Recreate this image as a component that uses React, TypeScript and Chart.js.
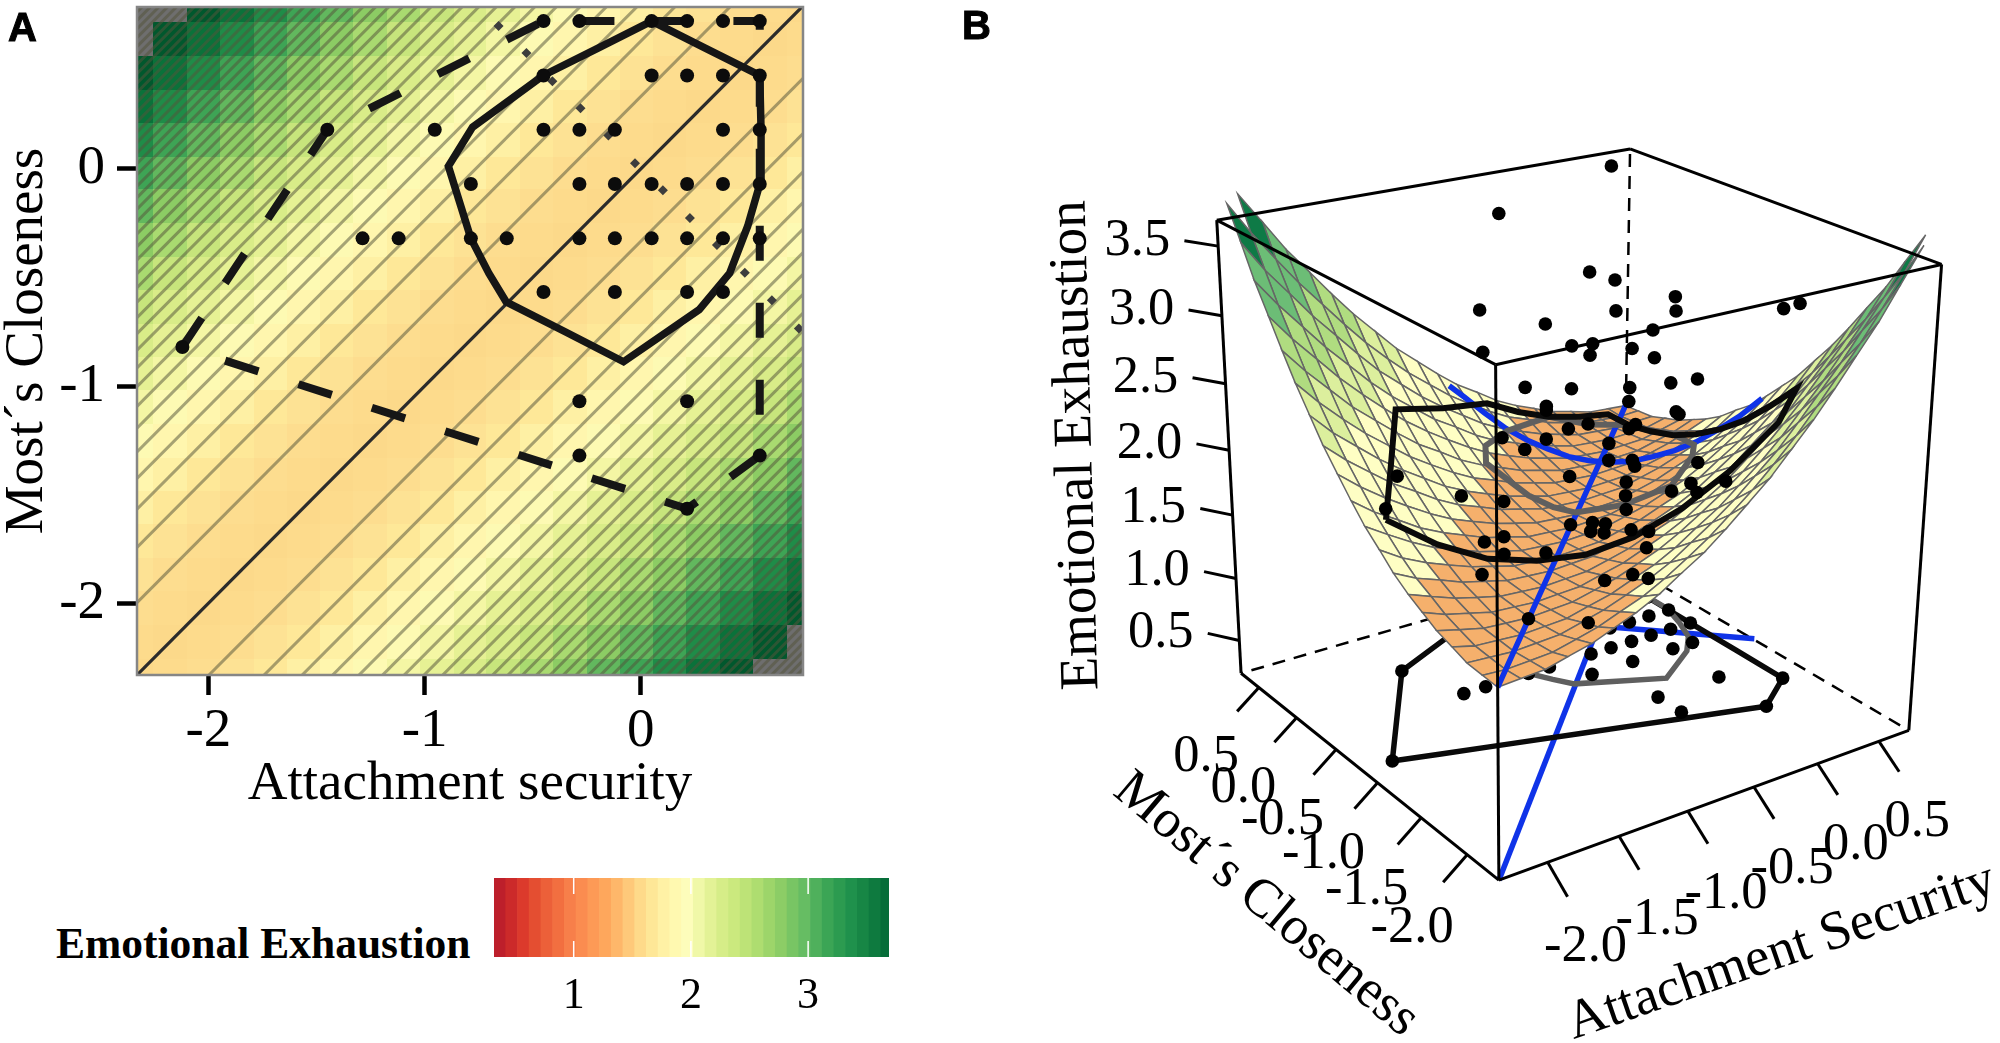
import { useEffect, useRef } from 'react'
import { Chart, registerables } from 'chart.js'

Chart.register(...registerables)

const SERIF = '"Liberation Serif", serif'

// scatter points of panel A, also the floor dots of panel B
const pointX = [
  -0.45, -0.284, 0.05, 0.214, 0.38, 0.55,
  -0.45, 0.05, 0.214, 0.38, 0.55,
  -1.45, -0.953, -0.45, -0.284, -0.12, 0.38, 0.55,
  -0.786, -0.284, -0.12, 0.05, 0.214, 0.38, 0.55,
  -1.287, -1.12, -0.786, -0.62, -0.284, -0.12, 0.05, 0.214, 0.38, 0.55,
  -0.45, -0.12, 0.214, 0.38,
  -2.12,
  -0.284, 0.214,
  -0.284, 0.55,
  0.214,
]
const pointY = [
  0.68, 0.68, 0.68, 0.68, 0.68, 0.68,
  0.43, 0.43, 0.43, 0.43, 0.43,
  0.18, 0.18, 0.18, 0.18, 0.18, 0.18, 0.18,
  -0.07, -0.07, -0.07, -0.07, -0.07, -0.07, -0.07,
  -0.32, -0.32, -0.32, -0.32, -0.32, -0.32, -0.32, -0.32, -0.32, -0.32,
  -0.567, -0.567, -0.567, -0.567,
  -0.82,
  -1.07, -1.07,
  -1.32, -1.32,
  -1.565,
]

// the same people raised to their outcome in panel B
const dotX = [0.55, -0.51, -0.15, 0.05, -1.14, -0.12, 0.35, 0.55, 0.02, 0.214, 0.55, 0.55, -1.12, -0.284, -0.12, 0.214, 0.38, 0.38, 0.33, 0.55, -0.81, -0.284, 0.55, 0.36, -0.31, 0.03, 0.38, 0.214, 0.38, 0.214, -0.82, -0.65, -0.48, 0.38, 0.05, 0.55, 0.214, 0.214, 0.05, 0.02, 0.38, 0.35, 0.52, -0.12, -1.45, -1.287, -0.81, 0.55, 0.53, 0.38, -2.12, 0.17, -0.284, -0.284, 0, -0.12, -0.19, 0.214, 0.55, -0.81, -1.12, -0.81, -0.65, 0.16, -1.14, -0.18, 0.05, 0.18, -0.786, -0.31]
const dotY = [0.68, 0.43, -0.07, -0.07, -0.32, -0.32, -0.32, -0.07, 0.68, -1.565, -1.32, 0.18, -0.32, -0.07, -0.07, 0.43, 0.18, -0.07, -0.32, -0.32, -0.32, -0.07, 0.43, 0.18, 0.18, 0.68, -0.32, -0.567, 0.68, 0.68, -0.07, -0.32, 0.18, 0.43, -0.32, 0.43, -1.07, -0.07, -0.32, -0.07, -0.567, 0.18, -0.32, 0.18, 0.18, -0.32, -0.07, -0.07, 0.43, -0.567, -0.82, -0.07, -0.07, -0.32, -0.07, -0.07, -0.32, -0.07, 0.18, -0.07, -0.32, -0.07, -0.32, -0.32, -0.32, -0.32, -0.32, -0.32, -0.32, -0.32]
const dotZ = [3.6, 3.49, 3.13, 3.03, 3.13, 2.91, 2.92, 2.69, 2.46, 3.25, 3.14, 2.46, 2.82, 2.6, 2.58, 2.25, 2.35, 2.36, 2.26, 2.24, 2.49, 2.27, 1.91, 1.93, 2.05, 1.76, 2.02, 2.13, 1.56, 1.56, 2.02, 2.06, 1.75, 1.49, 2.0, 1.57, 1.8, 1.58, 1.67, 1.63, 1.71, 1.27, 1.41, 1.44, 1.79, 1.79, 1.52, 1.24, 1.01, 1.47, 2.12, 1.19, 1.19, 1.31, 1.12, 1.09, 1.2, 1.01, 0.8, 1.24, 1.39, 1.1, 1.17, 0.98, 1.14, 0.81, 0.79, 0.72, 0.68, 0.5]

// hulls
const innerX = [0.05, 0.3, 0.55, 0.556, 0.556, 0.494, 0.411, 0.27, -0.08, -0.35, -0.623, -0.703, -0.786, -0.89, -0.778, -0.451, -0.2, 0.05]
const innerY = [0.68, 0.555, 0.43, 0.18, -0.05, -0.264, -0.48, -0.648, -0.888, -0.75, -0.612, -0.48, -0.32, 0.012, 0.192, 0.43, 0.555, 0.68]
const innerZ = [1.7, 1.62, 1.6, 1.64, 1.7, 1.75, 1.81, 1.82, 1.77, 1.64, 1.6, 1.61, 1.66, 1.81, 1.85, 1.8, 1.75, 1.7]
const outerX = [-2.12, -1.785, -1.45, -0.95, -0.45, -0.2, 0.05, 0.3, 0.55, 0.55, 0.55, 0.55, 0.55, 0.55, 0.55, 0.55, 0.55, 0.214, -0.078, -0.37, -0.662, -0.954, -1.246, -1.538, -1.83, -2.12]
const outerY = [-0.82, -0.32, 0.18, 0.43, 0.68, 0.68, 0.68, 0.68, 0.68, 0.43, 0.18, -0.07, -0.32, -0.57, -0.82, -1.07, -1.32, -1.565, -1.472, -1.379, -1.286, -1.193, -1.1, -1.007, -0.914, -0.82]
const outerZ = [2.04, 2.16, 2.3, 2.1, 1.93, 1.8, 1.7, 1.64, 1.6, 1.6, 1.64, 1.7, 1.8, 1.93, 2.09, 2.29, 2.51, 2.43, 2.11, 1.87, 1.7, 1.61, 1.61, 1.67, 1.82, 2.04]
// corners of the outer hull, panel A draws it dashed between these only
const hullCornerX = [-2.12, -1.45, -0.45, 0.55, 0.55, 0.214, -2.12]
const hullCornerY = [-0.82, 0.18, 0.68, 0.68, -1.32, -1.565, -0.82]

// line of incongruence
const loicX = [-0.658, -0.529, -0.409, -0.279, -0.15, -0.027, 0.102, 0.227, 0.352, 0.481, 0.606, 0.731]
const loicY = [0.658, 0.533, 0.403, 0.279, 0.154, 0.026, -0.098, -0.226, -0.351, -0.478, -0.605, -0.735]
const ridgeX = [-0.72, -0.65, -0.55, -0.45, -0.35, -0.25, -0.15, -0.05, 0.05, 0.15, 0.25, 0.35, 0.45, 0.55, 0.65, 0.75]
const ridgeZ = [2.12, 2.04, 1.92, 1.81, 1.73, 1.67, 1.62, 1.6, 1.6, 1.62, 1.67, 1.73, 1.81, 1.92, 2.04, 2.19]

// contour lines, distance from the y = x line
const contourOffsets = [0.333, 0.588, 0.764, 0.905, 1.027, 1.136, 1.236, 1.328, 1.414, 1.495, 1.572, 1.645, 1.716, 1.783, 1.848, 1.911, 1.972, 2.031, 2.088, 2.144, 2.198, 2.251, 2.303, 2.354, 2.403, 2.452, 2.499, 2.546, 2.592, 2.637, 2.682, 2.725, 2.768, 2.811, 2.852, 2.893, 2.934, 2.974, 3.013, 3.052]

// surface: grid nodes, and height per |column - row|
const gridValues = [-2.33, -2.18, -2.02, -1.87, -1.71, -1.56, -1.41, -1.25, -1.1, -0.94, -0.79, -0.64, -0.48, -0.33, -0.17, -0.02, 0.13, 0.29, 0.44, 0.6, 0.75]
const bandZ = [1.6, 1.61, 1.62, 1.66, 1.7, 1.76, 1.82, 1.9, 2.0, 2.1, 2.22, 2.35, 2.49, 2.65, 2.82, 3.0, 3.19, 3.39, 3.61, 3.84, 4.08]
// tile colour in panel A, per |column - row|
const tileColors = ['#fcd98a', '#fddb8c', '#fddd8f', '#fde294', '#fee898', '#fef0a4', '#fff6ae', '#fdfab3', '#f4f6a4', '#e6f194', '#d9ec88', '#c7e57c', '#a9da70', '#8ccc64', '#62b85e', '#3ea455', '#1f8c48', '#0a723a', '#00582d']
const missingColor = '#6e6e6e'

// colour scale, 0.1 wide bins from 0.32
const binCenters = [0.37, 0.47, 0.57, 0.67, 0.77, 0.87, 0.97, 1.07, 1.17, 1.27, 1.37, 1.47, 1.57, 1.67, 1.77, 1.87, 1.97, 2.07, 2.17, 2.27, 2.37, 2.47, 2.57, 2.67, 2.77, 2.87, 2.97, 3.07, 3.17, 3.27, 3.37, 3.47, 3.57, 3.67]
const binColors = ['#bd1f2b', '#cc2a2a', '#dc3a2c', '#e44e31', '#ec6039', '#f26f40', '#f77f4a', '#fb8c50', '#fd9a56', '#fea75c', '#feb76a', '#fec97a', '#feda8a', '#fee797', '#fff1a5', '#fff9b0', '#fdfdbb', '#f0f8a8', '#e3f296', '#d6ed88', '#cbe97e', '#bde377', '#aedd70', '#9dd56a', '#8ccd66', '#78c564', '#66bd63', '#4fb05c', '#3ba555', '#2c9b50', '#1f914c', '#178645', '#0e7a3f', '#066d39']
const legendTicks = [1, 2, 3]

const meshBreaks = [1.78, 2.37, 2.72, 3.1, 3.5]
const meshColors = ['#f5b06c', '#fefec4', '#dcef9d', '#b0dc80', '#6cbd76', '#0e7a46']

const axisTicksA = [-2, -1, 0]
const xTicksB = ['-2.0', '-1.5', '-1.0', '-0.5', '0.0', '0.5']
const yTicksB = ['-2.0', '-1.5', '-1.0', '-0.5', '0.0', '0.5']
const zTicksB = ['0.5', '1.0', '1.5', '2.0', '2.5', '3.0', '3.5']

// panel A tiles
const heatPlugin = {
  id: 'heat',
  beforeDatasetsDraw(chart: any) {
    const { ctx, scales } = chart
    const n = gridValues.length
    const edge = (i: number) => (i <= 0 ? gridValues[0] : i >= n ? gridValues[n - 1] : (gridValues[i - 1] + gridValues[i]) / 2)
    ctx.save()
    for (let i = 0; i < n; i++) {
      for (let j = 0; j < n; j++) {
        const band = Math.abs(i - j)
        const x0 = Math.round(scales.x.getPixelForValue(edge(i)))
        const x1 = Math.round(scales.x.getPixelForValue(edge(i + 1)))
        const y0 = Math.round(scales.y.getPixelForValue(edge(j + 1)))
        const y1 = Math.round(scales.y.getPixelForValue(edge(j)))
        ctx.fillStyle = tileColors[band] ?? missingColor
        ctx.fillRect(x0, y0, x1 - x0, y1 - y0)
      }
    }
    ctx.restore()
  },
  afterDatasetsDraw(chart: any) {
    const { ctx, chartArea: a } = chart
    ctx.save()
    ctx.strokeStyle = '#868686'
    ctx.lineWidth = 2.5
    ctx.strokeRect(a.left, a.top, a.right - a.left, a.bottom - a.top)
    ctx.restore()
  },
}

const line = (xs: number[], ys: number[], color: string, width: number, extra: object = {}) => ({
  data: xs.map((x, i) => ({ x, y: ys[i] })),
  showLine: true,
  borderColor: color,
  borderWidth: width,
  pointRadius: 0,
  ...extra,
})

const panelAConfig: any = {
  type: 'scatter',
  plugins: [heatPlugin],
  data: {
    datasets: [
      { data: pointX.map((x, i) => ({ x, y: pointY[i] })), pointRadius: 7, pointBorderWidth: 0, pointBackgroundColor: '#0c0c0c', order: 1 },
      { data: loicX.map((x, i) => ({ x, y: loicY[i] })), pointStyle: 'rectRot', pointRadius: 5, pointBorderWidth: 0, pointBackgroundColor: '#3d3d3d', order: 2 },
      line(hullCornerX, hullCornerY, '#161616', 8, { borderDash: [35, 42], order: 3 }),
      line(innerX, innerY, '#161616', 7.5, { order: 3 }),
      line([-2.33, 0.75], [-2.33, 0.75], '#2b2b2b', 3.2, { order: 4 }),
      ...contourOffsets.flatMap((c) => [
        line([-4, 2], [-4 + c, 2 + c], 'rgba(85,85,60,0.52)', 3, { order: 5 }),
        line([-4, 2], [-4 - c, 2 - c], 'rgba(85,85,60,0.52)', 3, { order: 5 }),
      ]),
    ],
  },
  options: {
    animation: false,
    responsive: false,
    devicePixelRatio: 1,
    layout: { padding: { top: 5, right: 3.5 } },
    plugins: { legend: { display: false }, tooltip: { enabled: false } },
    scales: {
      x: {
        type: 'linear', min: -2.33, max: 0.75,
        afterBuildTicks: (s: any) => { s.ticks = axisTicksA.map((value) => ({ value })) },
        afterFit: (s: any) => { s.height = 155; s.paddingLeft = 0; s.paddingRight = 0 },
        grid: { drawOnChartArea: false, tickLength: 20, tickWidth: 4.5, tickColor: '#000' },
        border: { display: false },
        ticks: { color: '#000', padding: 4, maxRotation: 0, font: { family: SERIF, size: 55 }, callback: (v: any) => String(v) },
        title: { display: true, text: 'Attachment security', color: '#000', font: { family: SERIF, size: 55, lineHeight: 1 }, padding: { bottom: 18 } },
      },
      y: {
        type: 'linear', min: -2.33, max: 0.745,
        afterBuildTicks: (s: any) => { s.ticks = axisTicksA.map((value) => ({ value })) },
        afterFit: (s: any) => { s.width = 137; s.paddingTop = 0; s.paddingBottom = 0 },
        grid: { drawOnChartArea: false, tickLength: 20, tickWidth: 4.5, tickColor: '#000' },
        border: { display: false },
        ticks: { color: '#000', padding: 12, font: { family: SERIF, size: 55 }, callback: (v: any) => String(v) },
        title: { display: true, text: 'Most´s Closeness', color: '#000', font: { family: SERIF, size: 55, lineHeight: 1 }, padding: { top: 0 } },
      },
    },
  },
}

// white notches on the colour bar
const notchPlugin = {
  id: 'notch',
  afterDatasetsDraw(chart: any) {
    const { ctx, chartArea: a, scales } = chart
    ctx.save()
    ctx.strokeStyle = '#fff'
    ctx.lineWidth = 1.5
    legendTicks.forEach((t) => {
      const x = scales.x.getPixelForValue(t)
      ctx.beginPath()
      ctx.moveTo(x, a.top)
      ctx.lineTo(x, a.top + 16)
      ctx.moveTo(x, a.bottom - 16)
      ctx.lineTo(x, a.bottom)
      ctx.stroke()
    })
    ctx.restore()
  },
}

const legendConfig: any = {
  type: 'bar',
  plugins: [notchPlugin],
  data: {
    datasets: [{
      data: binCenters.map((x) => ({ x, y: 1 })),
      backgroundColor: binColors,
      barPercentage: 1,
      categoryPercentage: 1,
      borderWidth: 0,
    }],
  },
  options: {
    animation: false,
    responsive: false,
    devicePixelRatio: 1,
    plugins: { legend: { display: false }, tooltip: { enabled: false } },
    scales: {
      x: {
        type: 'linear', min: 0.32, max: 3.69, offset: false,
        afterBuildTicks: (s: any) => { s.ticks = legendTicks.map((value) => ({ value })) },
        afterFit: (s: any) => { s.height = 66 },
        grid: { display: false },
        border: { display: false },
        ticks: { color: '#000', padding: 5, maxRotation: 0, font: { family: SERIF, size: 44 }, callback: (v: any) => String(v) },
      },
      y: { display: false, min: 0, max: 1 },
    },
  },
}

// panel B: camera, from the corners of the box on the page
const xLo = -2.33, xHi = 0.75, yLo = -2.33, yHi = 0.745, zLo = 0.231, zHi = 3.683
const camH = [1499.2, 884.9], camG = [1914.5, 733.2], camE = [1238, 675.3], camD = [1495.9, 362.6]
const persU = 0.1255, persV = 0.1664, persW = -0.09

const depth = (x: number, y: number, z: number) =>
  1 + persU * (x - xLo) / (xHi - xLo) + persV * (y - yLo) / (yHi - yLo) + persW * (z - zLo) / (zHi - zLo)

const project = (x: number, y: number, z: number) => {
  const u = (x - xLo) / (xHi - xLo), v = (y - yLo) / (yHi - yLo), w = (z - zLo) / (zHi - zLo)
  const h = depth(x, y, z)
  const at = (k: number) => (camH[k] + u * ((1 + persU) * camG[k] - camH[k]) + v * ((1 + persV) * camE[k] - camH[k]) + w * ((1 + persW) * camD[k] - camH[k])) / h
  return { x: at(0), y: at(1) }
}

const line3 = (pts: number[][], color: string, width: number, order: number, extra: object = {}) => ({
  data: pts.map((p) => project(p[0], p[1], p[2])),
  showLine: true,
  borderColor: color,
  borderWidth: width,
  pointRadius: 0,
  order,
  ...extra,
})

const meshColor = (z: number) => {
  const i = meshBreaks.findIndex((b) => z < b)
  return meshColors[i < 0 ? meshColors.length - 1 : i]
}

const buildMesh = () => {
  const n = gridValues.length
  const nodeZ = (i: number, j: number) => bandZ[Math.abs(i - j)]
  const quads: any[] = []
  for (let i = 0; i < n - 1; i++) {
    for (let j = 0; j < n - 1; j++) {
      const nodes = [[i, j], [i + 1, j], [i + 1, j + 1], [i, j + 1], [i, j]]
      if (nodes.some(([a, b]) => Math.abs(a - b) === 20)) continue
      const pts = nodes.map(([a, b]) => [gridValues[a], gridValues[b], nodeZ(a, b)])
      const mean = nodes.slice(0, 4).reduce((s, [a, b]) => s + nodeZ(a, b), 0) / 4
      const far = pts.slice(0, 4).reduce((s, p) => s + depth(p[0], p[1], p[2]), 0) / 4
      quads.push({ pts, mean, far })
    }
  }
  quads.sort((a, b) => b.far - a.far)
  return quads.map((q, rank) => line3(q.pts, '#666666', 1.5, 80 - rank * 0.01, { fill: 'shape', backgroundColor: meshColor(q.mean) }))
}

const corner = (ix: number, iy: number, iz: number) => [ix ? xHi : xLo, iy ? yHi : yLo, iz ? zHi : zLo]
const boxEdges = [
  [[0, 0, 0], [1, 0, 0]], [[0, 0, 0], [0, 1, 0]], [[0, 0, 0], [0, 0, 1]], [[0, 0, 1], [1, 0, 1]], [[0, 0, 1], [0, 1, 1]],
  [[1, 0, 0], [1, 0, 1]], [[0, 1, 0], [0, 1, 1]], [[1, 0, 1], [1, 1, 1]], [[0, 1, 1], [1, 1, 1]],
]
const boxHidden = [[[1, 1, 0], [1, 1, 1]], [[1, 1, 0], [1, 0, 0]], [[1, 1, 0], [0, 1, 0]]]

// tick marks leave the box by this much, in data units
const tickX = (t: string) => [[+t, yLo, zLo], [+t, yLo - 0.2, zLo - 0.14]]
const tickY = (t: string) => [[xLo, +t, zLo], [xLo - 0.163, +t, zLo - 0.14]]
const tickZ = (t: string) => [[xLo, yHi, +t], [xLo - 0.12, yHi + 0.21, +t]]

const labelsPlugin = {
  id: 'labels3d',
  afterDatasetsDraw(chart: any) {
    const { ctx, scales } = chart
    const px = (p: { x: number; y: number }) => [scales.x.getPixelForValue(p.x), scales.y.getPixelForValue(p.y)]
    ctx.save()
    ctx.fillStyle = '#000'
    ctx.font = `52.5px ${SERIF}`
    ctx.textAlign = 'center'
    ctx.textBaseline = 'middle'
    xTicksB.forEach((t) => {
      const e = tickX(t)[1], [x, y] = px(project(e[0], e[1], e[2]))
      ctx.fillText(t, x + 18, y + 50)
    })
    yTicksB.forEach((t) => {
      const e = tickY(t)[1], [x, y] = px(project(e[0], e[1], e[2]))
      ctx.fillText(t, x - 31, y + 46)
    })
    zTicksB.forEach((t) => {
      const e = tickZ(t)[1], [x, y] = px(project(e[0], e[1], e[2]))
      ctx.fillText(t, x - 47, y)
    })
    ctx.textBaseline = 'alphabetic'
    const title = (text: string, at: { x: number; y: number }, deg: number, size: number) => {
      const [x, y] = px(at)
      ctx.save()
      ctx.font = `${size}px ${SERIF}`
      ctx.translate(x, y)
      ctx.rotate((deg * Math.PI) / 180)
      ctx.fillText(text, 0, 0)
      ctx.restore()
    }
    title('Attachment Security', { x: 1790, y: 972 }, -19, 54.5)
    title('Most´s Closeness', { x: 1254, y: 921 }, 40, 54)
    title('Emotional Exhaustion', { x: 1086, y: 444 }, -91.5, 55)
    ctx.restore()
  },
}

const panelBConfig: any = {
  type: 'scatter',
  plugins: [labelsPlugin],
  data: {
    datasets: [
      ...boxHidden.map((e) => line3([corner(e[0][0], e[0][1], e[0][2]), corner(e[1][0], e[1][1], e[1][2])], '#000', 2.5, 100, { borderDash: [13, 9] })),
      // floor
      line3([[xLo, yLo, zLo], [xHi, yHi, zLo]], '#0f33e8', 5.5, 95),
      line3([[-0.76, 0.76, zLo], [0.76, -0.76, zLo]], '#0f33e8', 5.5, 95),
      line3(outerX.map((x, i) => [x, outerY[i], zLo]), '#0a0a0a', 5.5, 94),
      line3(innerX.map((x, i) => [x, innerY[i], zLo]), '#5f5f5f', 5.5, 93),
      { data: pointX.map((x, i) => project(x, pointY[i], zLo)), pointRadius: 6.8, pointBorderWidth: 0, pointBackgroundColor: '#000', order: 92 },
      ...buildMesh(),
      // on the surface
      line3(gridValues.map((x) => [x, x, bandZ[0]]), '#0f33e8', 5.5, 50),
      line3(ridgeX.map((x, i) => [x, -x, ridgeZ[i]]), '#0f33e8', 5.5, 50),
      line3(outerX.map((x, i) => [x, outerY[i], outerZ[i]]), '#0a0a0a', 6, 49),
      line3(innerX.map((x, i) => [x, innerY[i], innerZ[i]]), '#5f5f5f', 6, 49),
      { data: dotX.map((x, i) => project(x, dotY[i], dotZ[i])), pointRadius: 6.8, pointBorderWidth: 0, pointBackgroundColor: '#000', order: 40 },
      ...boxEdges.map((e) => line3([corner(e[0][0], e[0][1], e[0][2]), corner(e[1][0], e[1][1], e[1][2])], '#000', 3, 30)),
      ...xTicksB.map((t) => line3(tickX(t), '#000', 3, 30)),
      ...yTicksB.map((t) => line3(tickY(t), '#000', 3, 30)),
      ...zTicksB.map((t) => line3(tickZ(t), '#000', 3, 30)),
    ],
  },
  options: {
    animation: false,
    responsive: false,
    devicePixelRatio: 1,
    plugins: { legend: { display: false }, tooltip: { enabled: false } },
    scales: {
      x: { type: 'linear', display: false, min: 950, max: 2000 },
      y: { type: 'linear', display: false, min: 0, max: 1043, reverse: true },
    },
  },
}

function Plot({ config, left, top, width, height }: { config: any; left: number; top: number; width: number; height: number }) {
  const ref = useRef<HTMLCanvasElement>(null)
  useEffect(() => {
    if (!ref.current) return
    const inst = new Chart(ref.current, config)
    return () => inst.destroy()
  }, [config])
  return <canvas ref={ref} width={width} height={height} style={{ position: 'absolute', left, top, width, height }} />
}

export default function App() {
  const letter = { position: 'absolute', fontFamily: '"Liberation Sans", sans-serif', fontWeight: 700, fontSize: 40, lineHeight: '40px', color: '#000', WebkitTextStroke: '1px #000' } as const
  return (
    <div style={{ position: 'fixed', inset: 0, background: '#fff', overflow: 'hidden' }}>
      <Plot config={panelAConfig} left={0} top={0} width={810} height={830} />
      <Plot config={legendConfig} left={494} top={878} width={395} height={145} />
      <Plot config={panelBConfig} left={950} top={0} width={1050} height={1043} />
      <div style={{ ...letter, left: 8, top: 7 }}>A</div>
      <div style={{ ...letter, left: 962, top: 5 }}>B</div>
      <div style={{ position: 'absolute', left: 56, top: 918, fontFamily: SERIF, fontWeight: 700, fontSize: 43.5, lineHeight: '50px', whiteSpace: 'nowrap', color: '#000' }}>Emotional Exhaustion</div>
    </div>
  )
}
